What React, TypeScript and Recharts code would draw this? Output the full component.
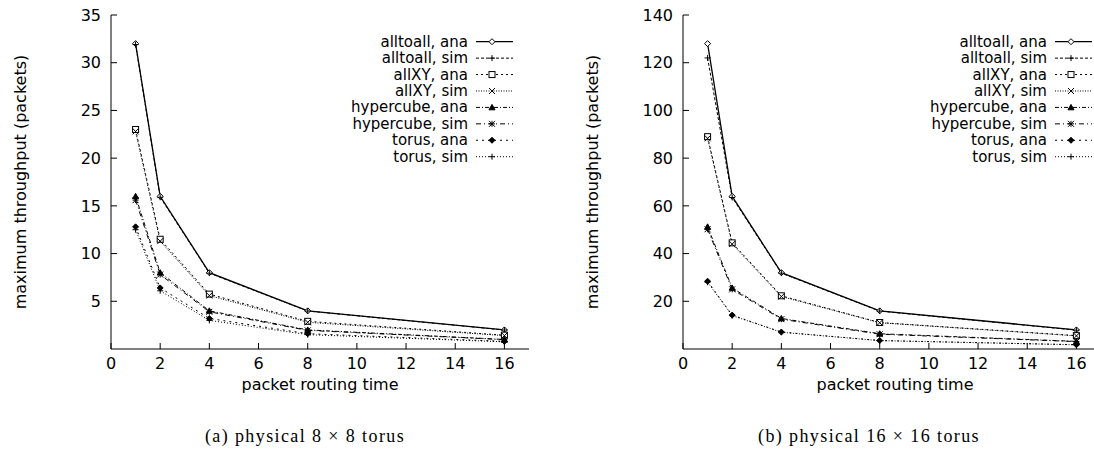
import { LineChart, Line, XAxis, YAxis, Legend } from 'recharts';

const xs = [1, 2, 4, 8, 16];
const xTicks = [0, 2, 4, 6, 8, 10, 12, 14, 16];

// (a) physical 8 x 8 torus
const t8AlltoallAna = [32, 16, 8, 4, 2];
const t8AlltoallSim = [31.9, 15.9, 7.95, 3.98, 1.99];
const t8AllxyAna = [23, 11.5, 5.75, 2.9, 1.45];
const t8AllxySim = [22.8, 11.3, 5.6, 2.8, 1.4];
const t8HyperAna = [16, 8, 4, 2, 1];
const t8HyperSim = [15.6, 7.8, 3.9, 1.95, 0.98];
const t8TorusAna = [12.8, 6.4, 3.2, 1.6, 0.8];
const t8TorusSim = [12.5, 6.1, 3.0, 1.5, 0.75];
const t8Ticks = [5, 10, 15, 20, 25, 30, 35];

// (b) physical 16 x 16 torus
const t16AlltoallAna = [128, 64, 32, 16, 8];
const t16AlltoallSim = [122, 63.5, 31.8, 15.9, 7.9];
const t16AllxyAna = [89, 44.5, 22.3, 11.1, 5.6];
const t16AllxySim = [88.3, 44, 22, 11, 5.5];
const t16HyperAna = [51.2, 25.6, 12.8, 6.4, 3.2];
const t16HyperSim = [50.2, 25, 12.5, 6.2, 3.1];
const t16TorusAna = [28.4, 14.2, 7.1, 3.55, 1.8];
const t16TorusSim = [28, 14, 7, 3.5, 1.75];
const t16Ticks = [20, 40, 60, 80, 100, 120, 140];

type Shape = 'diamond' | 'plus' | 'square' | 'cross' | 'triangle' | 'star' | 'diamondFill';

const SERIES: { key: string; name: string; dash?: string; shape: Shape; w: number }[] = [
  { key: 'a2aAna', name: 'alltoall, ana', shape: 'diamond', w: 1.3 },
  { key: 'a2aSim', name: 'alltoall, sim', dash: '3 2', shape: 'plus', w: 1 },
  { key: 'xyAna', name: 'allXY, ana', dash: '2 3', shape: 'square', w: 1 },
  { key: 'xySim', name: 'allXY, sim', dash: '1 1.5', shape: 'cross', w: 1 },
  { key: 'hcAna', name: 'hypercube, ana', dash: '4 2 1 2', shape: 'triangle', w: 1 },
  { key: 'hcSim', name: 'hypercube, sim', dash: '5 3 1 3', shape: 'star', w: 1 },
  { key: 'toAna', name: 'torus, ana', dash: '2 4', shape: 'diamondFill', w: 1 },
  { key: 'toSim', name: 'torus, sim', dash: '1 2', shape: 'plus', w: 1 },
];

function buildRows(cols: number[][]) {
  return xs.map((x, i) => {
    const row: Record<string, number> = { x };
    SERIES.forEach((s, j) => {
      row[s.key] = cols[j][i];
    });
    return row;
  });
}

const rows8 = buildRows([
  t8AlltoallAna, t8AlltoallSim, t8AllxyAna, t8AllxySim,
  t8HyperAna, t8HyperSim, t8TorusAna, t8TorusSim,
]);
const rows16 = buildRows([
  t16AlltoallAna, t16AlltoallSim, t16AllxyAna, t16AllxySim,
  t16HyperAna, t16HyperSim, t16TorusAna, t16TorusSim,
]);

function marker(shape: Shape, cx: number, cy: number, key?: string | number) {
  const r = 3;
  const st = { stroke: '#000', strokeWidth: 1 };
  switch (shape) {
    case 'diamond':
      return <path key={key} d={`M${cx},${cy - r}L${cx + r},${cy}L${cx},${cy + r}L${cx - r},${cy}Z`} fill="#fff" {...st} />;
    case 'diamondFill':
      return <path key={key} d={`M${cx},${cy - r}L${cx + r},${cy}L${cx},${cy + r}L${cx - r},${cy}Z`} fill="#000" {...st} />;
    case 'plus':
      return <path key={key} d={`M${cx - r},${cy}H${cx + r}M${cx},${cy - r}V${cy + r}`} fill="none" {...st} />;
    case 'square':
      return <rect key={key} x={cx - r} y={cy - r} width={2 * r} height={2 * r} fill="#fff" {...st} />;
    case 'cross':
      return <path key={key} d={`M${cx - r},${cy - r}L${cx + r},${cy + r}M${cx - r},${cy + r}L${cx + r},${cy - r}`} fill="none" {...st} />;
    case 'triangle':
      return <path key={key} d={`M${cx},${cy - r}L${cx + r},${cy + r * 0.8}L${cx - r},${cy + r * 0.8}Z`} fill="#000" {...st} />;
    case 'star':
      return (
        <path
          key={key}
          d={`M${cx - r},${cy}H${cx + r}M${cx},${cy - r}V${cy + r}M${cx - r},${cy - r}L${cx + r},${cy + r}M${cx - r},${cy + r}L${cx + r},${cy - r}`}
          fill="none"
          {...st}
        />
      );
  }
}

const noTick = () => <g />;
const FONT = '"DejaVu Sans", Verdana, sans-serif';
const tickStyle = { fontSize: 16, fill: '#000', fontFamily: FONT };

const W = 560;
const H = 420;
const PL = 111; // plot left inside chart
const PT = 15;
const PR = 31;
const XH = 70;

interface PanelProps {
  rows: Record<string, number>[];
  yMax: number;
  yTicks: number[];
  legendDx: number;
  xLabelDx: number;
}

function Panel({ rows, yMax, yTicks, legendDx, xLabelDx }: PanelProps) {
  const legend = () => (
    <svg width={W} height={180} style={{ position: 'absolute', left: 0, top: 0, overflow: 'visible' }}>
      {SERIES.map((s, i) => {
        const y = 41.7 + i * 16.43;
        return (
          <g key={s.key}>
            <text x={468 + legendDx} y={y} textAnchor="end" dominantBaseline="central" fontSize={15} fontFamily={FONT} fill="#000">
              {s.name}
            </text>
            <line x1={476 + legendDx} x2={513 + legendDx} y1={y} y2={y} stroke="#000" strokeWidth={s.w} strokeDasharray={s.dash} />
            {marker(s.shape, 492 + legendDx, y)}
          </g>
        );
      })}
    </svg>
  );

  const plotBottom = H - XH - 1;
  return (
    <LineChart width={W} height={H} data={rows} margin={{ top: PT, right: PR, left: 0, bottom: 1 }}>
      <XAxis
        dataKey="x"
        type="number"
        domain={[0, 17]}
        ticks={xTicks}
        allowDataOverflow
        height={XH}
        tickSize={-6}
        tickMargin={15}
        tick={tickStyle}
        stroke="#000"
        axisLine={{ stroke: '#000' }}
        tickLine={{ stroke: '#000' }}
      />
      <XAxis
        xAxisId="t"
        orientation="top"
        type="number"
        domain={[0, 17]}
        ticks={xTicks}
        allowDataOverflow
        height={0}
        tickSize={-6}
        tick={noTick}
        axisLine={{ stroke: '#000' }}
        tickLine={{ stroke: '#000' }}
      />
      <YAxis
        type="number"
        domain={[0, yMax]}
        ticks={yTicks}
        allowDataOverflow
        width={PL}
        tickSize={-6}
        tickMargin={16}
        tick={tickStyle}
        axisLine={{ stroke: '#000' }}
        tickLine={{ stroke: '#000' }}
      />
      <YAxis
        yAxisId="r"
        orientation="right"
        type="number"
        domain={[0, yMax]}
        ticks={yTicks}
        allowDataOverflow
        width={0}
        tickSize={-6}
        tick={noTick}
        axisLine={{ stroke: '#000' }}
        tickLine={{ stroke: '#000' }}
      />
      <Legend layout="vertical" align="center" verticalAlign="middle" content={legend} wrapperStyle={{ position: 'absolute', left: 0, top: 0, width: W, height: 0 }} />
      {SERIES.map((s) => (
        <Line
          key={s.key}
          dataKey={s.key}
          name={s.name}
          stroke="#000"
          strokeWidth={s.w}
          strokeDasharray={s.dash}
          isAnimationActive={false}
          dot={(p: any) => marker(s.shape, p.cx, p.cy, `${s.key}-${p.index}`) as any}
          activeDot={false}
        />
      ))}
      <text
        transform={`translate(20,${(PT + plotBottom) / 2}) rotate(-90)`}
        textAnchor="middle"
        dominantBaseline="central"
        fontSize={16}
        fontFamily={FONT}
        fill="#000"
      >
        maximum throughput (packets)
      </text>
      <text x={(PL + W - PR) / 2 + xLabelDx} y={384} textAnchor="middle" dominantBaseline="central" fontSize={16} fontFamily={FONT} fill="#000">
        packet routing time
      </text>
    </LineChart>
  );
}

const captionStyle: React.CSSProperties = {
  position: 'absolute',
  top: 426,
  fontFamily: '"Liberation Serif", "DejaVu Serif", serif',
  fontSize: 18,
  letterSpacing: 1.4,
  whiteSpace: 'nowrap',
  transform: 'translateX(-50%)',
  color: '#000',
};

export default function App() {
  return (
    <div style={{ position: 'fixed', left: 0, top: 0, width: 1094, height: 465, overflow: 'hidden', background: '#fff' }}>
      <div style={{ position: 'absolute', left: 0, top: 0 }}>
        <Panel rows={rows8} yMax={35} yTicks={t8Ticks} legendDx={0} xLabelDx={0} />
      </div>
      <div style={{ position: 'absolute', left: 572, top: 0 }}>
        <Panel rows={rows16} yMax={140} yTicks={t16Ticks} legendDx={7} xLabelDx={3} />
      </div>
      <div style={{ ...captionStyle, left: 305 }}>(a) physical 8 × 8 torus</div>
      <div style={{ ...captionStyle, left: 869 }}>(b) physical 16 × 16 torus</div>
    </div>
  );
}
